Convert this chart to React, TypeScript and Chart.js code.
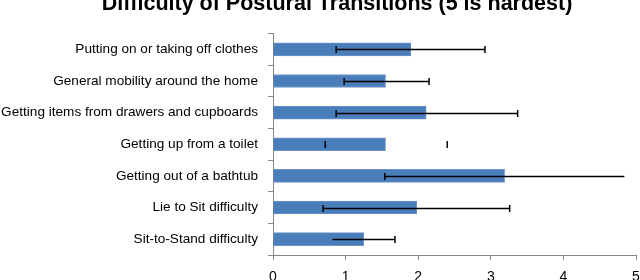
import React, { useEffect, useRef } from "react";
import { Chart, registerables } from "chart.js";

Chart.register(...registerables);

const titleText = "Difficulty of Postural Transitions (5 is hardest)";
const categories = [
  "Putting on or taking off clothes",
  "General mobility around the home",
  "Getting items from drawers and cupboards",
  "Getting up from a toilet",
  "Getting out of a bathtub",
  "Lie to Sit difficulty",
  "Sit-to-Stand difficulty",
];
const means = [1.9, 1.55, 2.11, 1.55, 3.19, 1.98, 1.25];
const errorLow = [0.87, 0.98, 0.87, 0.72, 1.54, 0.69, 0.82];
const errorHigh = [2.92, 2.15, 3.37, 2.4, 4.84, 3.26, 1.68];
const xMin = 0;
const xMax = 5;

// which parts of each error bar are visible: [line, low cap, high cap]
const errorBarParts: boolean[][] = [
  [true, true, true],
  [true, true, true],
  [true, true, true],
  [false, true, true],
  [true, true, false],
  [true, true, true],
  [true, false, true],
];

const AXIS_COLOR = "#868686";
const FONT = "'Liberation Sans', Arial, sans-serif";

const errorBarPlugin = {
  id: "errorBars",
  afterDatasetsDraw(chart: any) {
    const meta = chart.getDatasetMeta(0);
    const xs = chart.scales.x;
    const ctx = chart.ctx;
    ctx.save();
    ctx.strokeStyle = "#000000";
    ctx.lineWidth = 1.5;
    meta.data.forEach((bar: any, i: number) => {
      const y = Math.round(bar.y) + 0.5;
      const x1 = xs.getPixelForValue(errorLow[i]);
      const x2 = xs.getPixelForValue(errorHigh[i]);
      const [line, lowCap, highCap] = errorBarParts[i];
      const cap = 3.5;
      ctx.beginPath();
      if (line) {
        ctx.moveTo(x1, y);
        ctx.lineTo(x2, y);
      }
      if (lowCap) {
        ctx.moveTo(x1, y - cap);
        ctx.lineTo(x1, y + cap);
      }
      if (highCap) {
        ctx.moveTo(x2, y - cap);
        ctx.lineTo(x2, y + cap);
      }
      ctx.stroke();
    });
    ctx.restore();
  },
};

export default function App() {
  const ref = useRef<HTMLCanvasElement | null>(null);
  useEffect(() => {
    if (!ref.current) return;
    const chart = new Chart(ref.current, {
      type: "bar",
      data: {
        labels: categories,
        datasets: [
          {
            data: means,
            backgroundColor: "#4A7EBB",
            borderColor: "#6E95C8",
            borderWidth: 1,
            barThickness: 13,
          },
        ],
      },
      options: {
        indexAxis: "y",
        responsive: false,
        animation: false,
        layout: { padding: 0 },
        plugins: {
          legend: { display: false },
          tooltip: { enabled: false },
          title: {
            display: true,
            text: titleText,
            color: "#000",
            font: { family: FONT, size: 21.5, weight: "bold", lineHeight: 1.2 },
            padding: { top: 11.1, bottom: 16.6 },
          },
        },
        scales: {
          y: {
            type: "category",
            grid: {
              offset: true,
              drawOnChartArea: false,
              drawTicks: true,
              tickLength: 5,
              color: AXIS_COLOR,
            },
            border: { color: AXIS_COLOR, width: 1 },
            ticks: {
              color: "#000",
              padding: 10,
              autoSkip: false,
              font: { family: FONT, size: 13.6 },
            },
            afterFit(scale: any) {
              scale.width = 273;
            },
          },
          spacer: {
            type: "linear",
            position: "right",
            display: true,
            grid: { display: false, drawTicks: false },
            border: { display: false },
            ticks: { display: false },
            afterFit(scale: any) {
              scale.width = 38;
            },
          },
          x: {
            min: xMin,
            max: xMax,
            grid: {
              drawOnChartArea: false,
              drawTicks: true,
              tickLength: 5,
              color: AXIS_COLOR,
            },
            border: { color: AXIS_COLOR, width: 1 },
            ticks: {
              stepSize: 1,
              color: "#000",
              padding: 9,
              maxRotation: 0,
              font: { family: FONT, size: 14 },
            },
            afterFit(scale: any) {
              scale.height = 35;
            },
          },
        },
      },
      plugins: [errorBarPlugin],
    });
    return () => chart.destroy();
  }, []);
  return (
    <div
      style={{
        position: "absolute",
        left: 0,
        top: 0,
        width: 640,
        height: 280,
        overflow: "hidden",
      }}
    >
      <div style={{ position: "absolute", left: 0, top: -20, width: 674, height: 310 }}>
        <canvas ref={ref} width={674} height={310} />
      </div>
    </div>
  );
}
